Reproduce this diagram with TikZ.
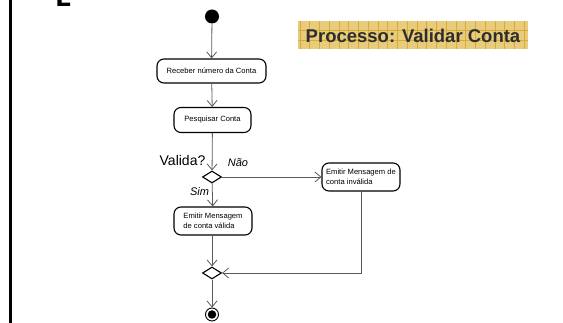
\documentclass[tikz,border=0pt]{standalone}
\usepackage{fontspec}
\setmainfont{Liberation Sans}
\usetikzlibrary{arrows.meta,shapes.geometric}
\definecolor{conn}{HTML}{5A5A5A}
\definecolor{titlebg}{HTML}{E8CC7C}
\definecolor{titlegrid}{HTML}{D6AB3A}
\definecolor{titletext}{HTML}{2E2E2E}
\begin{document}
\begin{tikzpicture}[x=1pt,y=-1pt,
  actbox/.style={draw=black, line width=1.1pt, rounded corners=7pt, fill=white,
    font=\fontsize{7.6}{10}\selectfont, align=left, inner sep=0pt},
  decision/.style={draw=black, line width=1.1pt, diamond, fill=white,
    minimum width=19pt, minimum height=12pt, inner sep=0pt},
  flow/.style={draw=conn, line width=0.8pt, -{Straight Barb[length=6pt,width=10pt]}},
  guard/.style={font=\itshape\fontsize{11}{11}\selectfont, inner sep=0pt},
  gridline/.style={draw=titlegrid, line width=0.6pt}
]
\useasboundingbox (0,0) rectangle (563,323);
% left border line and cropped glyph
\draw[line width=3pt] (10.5,0) -- (10.5,323);
\fill (57.3,0) -- (61.7,0) -- (61.7,2.7) -- (70,2.7) -- (70,6) -- (57.3,6) -- cycle;
% title box
\fill[titlebg] (298,21.5) rectangle (527.5,49);
\foreach \gx in {0,...,23} {\draw[gridline] (300+\gx*9.75,21.5) -- (300+\gx*9.75,49);}
\foreach \gy in {30.5,40.5} {\draw[gridline] (298,\gy) -- (527.5,\gy);}
\node[font=\bfseries\fontsize{18.5}{18.5}\selectfont, text=titletext, inner sep=0pt] (title) at (413,35.5) {Processo: Validar Conta};
% nodes
\node[circle, fill=black, minimum size=14pt, inner sep=0pt] (start) at (212,16.5) {};
\node[actbox, minimum width=109pt, minimum height=24pt] (receber) at (211.5,71) {Receber número da Conta};
\node[actbox, minimum width=77pt, minimum height=25pt] (pesquisar) at (212.5,120) {Pesquisar Conta};
\node[decision] (d1) at (212,177) {};
\node[actbox, minimum width=78pt, minimum height=28pt] (invalida) at (361,177) {Emitir Mensagem de\\conta inválida};
\node[actbox, minimum width=78pt, minimum height=28pt] (valida) at (213,221) {Emitir Mensagem\\de conta válida};
\node[decision] (d2) at (212,273) {};
\node[circle, draw=black, line width=0.9pt, minimum size=13pt, inner sep=0pt] (end) at (212,314.5) {};
\node[circle, fill=black, minimum size=8.5pt, inner sep=0pt] (enddot) at (end) {};
% labels
\node[font=\fontsize{14}{14}\selectfont, inner sep=0pt] (lvalida) at (182.5,160) {Valida?};
\node[guard] (lnao) at (238,163) {Não};
\node[guard] (lsim) at (199.5,191.5) {Sim};
% connectors
\draw[flow] (start) -- (receber);
\draw[flow] (receber) -- (pesquisar);
\draw[flow] (pesquisar) -- (d1);
\draw[flow] (d1) -- (invalida);
\draw[flow] (d1) -- (valida);
\draw[flow] (valida.south -| d2) -- (d2);
\draw[flow] (invalida) |- (d2);
\draw[flow] (d2) -- (end);
\end{tikzpicture}
\end{document}
